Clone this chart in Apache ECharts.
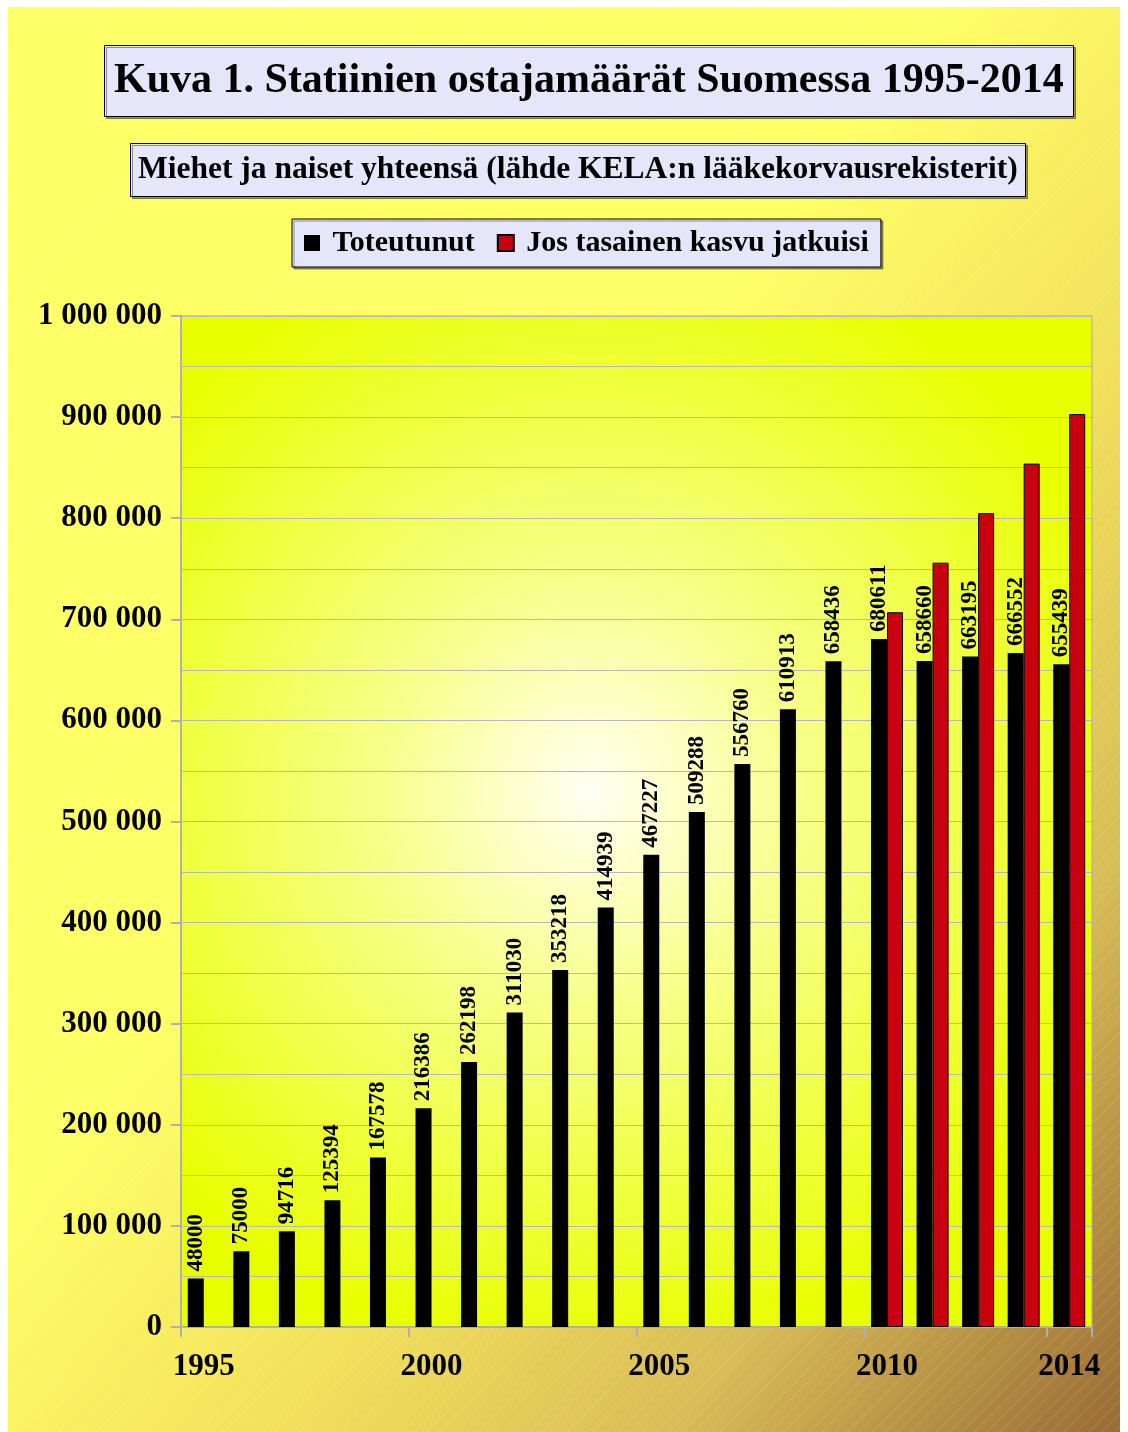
<!DOCTYPE html>
<html>
<head>
<meta charset="utf-8">
<script src="https://cdn.jsdelivr.net/npm/echarts@6/dist/echarts.min.js"></script>
<style>
  html, body { margin: 0; padding: 0; background: #ffffff; }
  #wrap {
    position: absolute; left: 8px; top: 7px; width: 1112px; height: 1425px;
    background:
      repeating-linear-gradient(135deg, rgba(255,255,255,0) 0px, rgba(255,255,255,0) 7px, rgba(255,255,255,0.12) 8px, rgba(255,255,255,0) 9px),
      linear-gradient(to bottom right, #ffff66 0%, #ffff66 42%, #f2e05a 62%, #d8bc56 80%, #9a6a34 100%);
  }
  #main { position: absolute; left: -8px; top: -7px; width: 1128px; height: 1432px; }
</style>
</head>
<body>
<div id="wrap"><div id="main"></div></div>
<script>
// vuodet
const years = ['1995', '1996', '1997', '1998', '1999', '2000', '2001', '2002', '2003', '2004',
  '2005', '2006', '2007', '2008', '2009', '2010', '2011', '2012', '2013', '2014'];

// toteutunut ostajamäärä
const toteutunut = [48000, 75000, 94716, 125394, 167578, 216386, 262198, 311030, 353218, 414939,
  467227, 509288, 556760, 610913, 658436, 680611, 658660, 663195, 666552, 655439];

// jos tasainen kasvu jatkuisi (luettu kuvasta)
const tasainenKasvu = [null, null, null, null, null, null, null, null, null, null,
  null, null, null, null, null, 707000, 756000, 805000, 854000, 903000];

const fontFam = '"Liberation Serif", "Times New Roman", serif';

const chart = echarts.init(document.getElementById('main'));

const boxStyle = {
  backgroundColor: '#e6e6fa',
  borderColor: '#000000',
  borderWidth: 1,
  shadowColor: 'rgba(0,0,0,0.4)',
  shadowOffsetX: 2,
  shadowOffsetY: 2,
  shadowBlur: 0
};

const option = {
  animation: false,
  title: [
    Object.assign({
      text: 'Kuva 1. Statiinien ostajamäärät Suomessa 1995-2014',
      left: 104, top: 45,
      padding: [15, 10, 15, 10],
      textStyle: { fontFamily: fontFam, fontSize: 42, fontWeight: 'bold', color: '#000' }
    }, boxStyle),
    Object.assign({
      text: 'Miehet ja naiset yhteensä (lähde KELA:n lääkekorvausrekisterit)',
      left: 130, top: 143,
      padding: [11, 8, 11, 8],
      textStyle: { fontFamily: fontFam, fontSize: 31.5, fontWeight: 'bold', color: '#000' }
    }, boxStyle)
  ],
  legend: Object.assign({
    left: 292, top: 219,
    padding: [9, 12, 9, 12],
    itemWidth: 16, itemHeight: 16, itemGap: 22,
    icon: 'rect',
    formatter: (name) => ' ' + name,
    textStyle: { fontFamily: fontFam, fontSize: 30, fontWeight: 'bold', color: '#000' }
  }, boxStyle),
  grid: {
    left: 181, right: 36, top: 316, bottom: 105,
    show: true,
    borderColor: '#a8a8a8',
    borderWidth: 1,
    backgroundColor: new echarts.graphic.RadialGradient(0.45, 0.47, 0.62, [
      { offset: 0, color: '#fffff4' },
      { offset: 0.35, color: '#f8ff90' },
      { offset: 1, color: '#e8ff00' }
    ])
  },
  xAxis: {
    type: 'category',
    data: years,
    axisLine: { lineStyle: { color: '#b0b0b0', width: 2 } },
    axisTick: { show: true, length: 10, lineStyle: { color: '#b0b0b0', width: 2 } },
    axisLabel: {
      interval: (i) => i % 5 === 0 || i === years.length - 1,
      margin: 24,
      fontFamily: fontFam, fontSize: 31, fontWeight: 'bold', color: '#000'
    },
    splitLine: { show: false }
  },
  yAxis: {
    type: 'value',
    min: 0, max: 1000000, interval: 100000,
    axisLine: { show: true, lineStyle: { color: '#b0b0b0', width: 2 } },
    axisTick: { show: true, length: 10, lineStyle: { color: '#b0b0b0', width: 2 } },
    axisLabel: {
      margin: 19,
      fontFamily: fontFam, fontSize: 31, fontWeight: 'bold', color: '#000',
      formatter: (v) => String(v).replace(/\B(?=(\d{3})+(?!\d))/g, ' ')
    },
    splitLine: { lineStyle: { color: '#b8b8b8', width: 1 } },
    minorTick: { show: false, splitNumber: 2 },
    minorSplitLine: { show: true, lineStyle: { color: '#b8b8b8', width: 1 } }
  },
  series: [
    {
      name: 'Toteutunut',
      type: 'bar',
      data: toteutunut,
      barWidth: 16,
      barGap: '0%',
      itemStyle: { color: '#000000' },
      label: {
        show: true,
        position: 'top',
        rotate: 90,
        align: 'left',
        verticalAlign: 'middle',
        distance: 7,
        fontFamily: fontFam, fontSize: 23, fontWeight: 'bold', color: '#000'
      },
      z: 3
    },
    {
      name: 'Jos tasainen kasvu jatkuisi',
      type: 'bar',
      data: tasainenKasvu,
      barWidth: 16,
      barGap: '0%',
      itemStyle: { color: '#c8000f', borderColor: '#000000', borderWidth: 1 },
      z: 2
    }
  ]
};

chart.setOption(option);
</script>
</body>
</html>
